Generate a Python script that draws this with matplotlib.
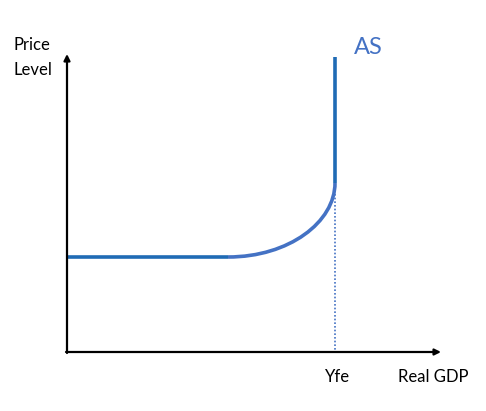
import matplotlib.pyplot as plt
from matplotlib.path import Path
from matplotlib.patches import PathPatch

# pixel coordinates (y grows downward)
flat_x = [67, 228]
flat_y = [257, 257]
# bend: start, two control points, end (cubic curve)
curve_x = [228, 289, 335, 335]
curve_y = [257, 257, 222, 183]
vert_x = [335, 335]
vert_y = [183, 57]
yfe_x = 335
axis_y0 = 352

plt.rcParams['font.family'] = ['Lato', 'DejaVu Sans']
fig = plt.figure(figsize=(4.86, 4.11), dpi=100)
ax = fig.add_axes([0, 0, 1, 1])
ax.set_xlim(0, 486)
ax.set_ylim(411, 0)
ax.axis('off')

# axes with arrows
ax.annotate('', xy=(67, 54), xytext=(67, axis_y0 + 1),
            arrowprops=dict(arrowstyle='-|>', color='black', lw=1.6, mutation_scale=9, shrinkA=0, shrinkB=0))
ax.annotate('', xy=(441, axis_y0), xytext=(66, axis_y0),
            arrowprops=dict(arrowstyle='-|>', color='black', lw=1.6, mutation_scale=9, shrinkA=0, shrinkB=0))

# dotted Yfe line
ax.plot([yfe_x, yfe_x], [vert_y[0], axis_y0], color='#4472C4', lw=1.2, ls=(0, (1, 1.2)))

# AS curve
ax.plot(flat_x, flat_y, color='#1F6BB5', lw=2.6, solid_capstyle='butt')
bend = Path(list(zip(curve_x, curve_y)), [Path.MOVETO, Path.CURVE4, Path.CURVE4, Path.CURVE4])
ax.add_patch(PathPatch(bend, facecolor='none', edgecolor='#4472C4', lw=2.6, capstyle='butt'))
ax.plot(vert_x, vert_y, color='#1F6BB5', lw=2.6, solid_capstyle='butt')

ax.text(13, 45, 'Price', fontsize=12, va='center', ha='left')
ax.text(13, 70, 'Level', fontsize=12, va='center', ha='left')
ax.text(354, 48, 'AS', fontsize=17, color='#4472C4', va='center', ha='left')
ax.text(338, 377, 'Yfe', fontsize=12, va='center', ha='center')
ax.text(398, 377, 'Real GDP', fontsize=12, va='center', ha='left')

fig.savefig('out.png', dpi=100)
